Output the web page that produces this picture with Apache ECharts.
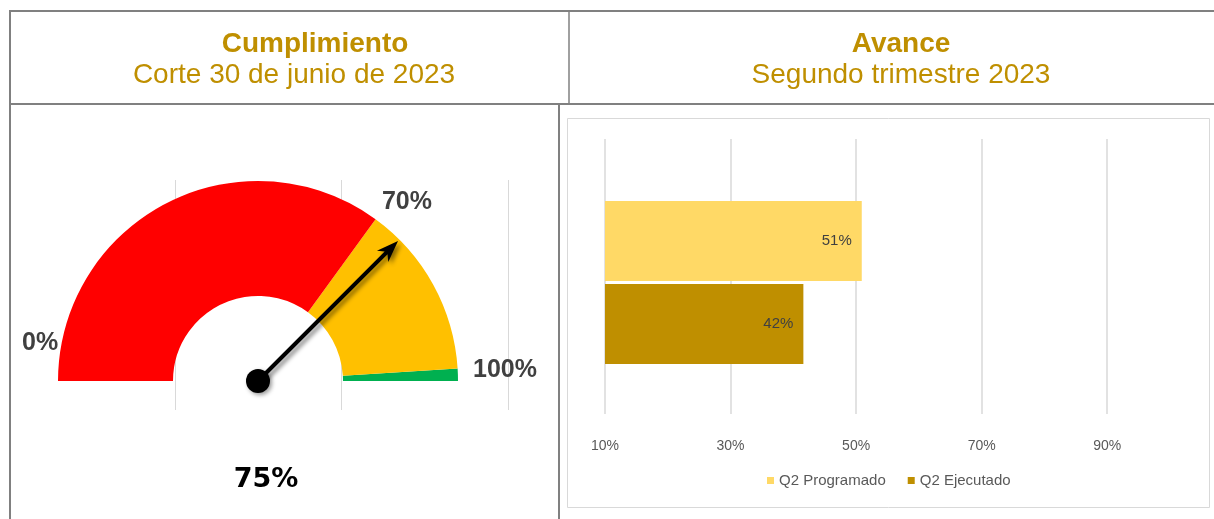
<!DOCTYPE html>
<html>
<head>
<meta charset="utf-8">
<script src="https://cdn.jsdelivr.net/npm/echarts@6/dist/echarts.min.js"></script>
<style>
html, body { margin: 0; padding: 0; background: #fff; }
#main { width: 1214px; height: 519px; }
</style>
</head>
<body>
<div id="main"></div>
<script>
// velocimetro de cumplimiento
var gaugeValue = 75;
var gaugeStops = [70, 98, 100];
var gaugeColors = ['#FF0000', '#FFC000', '#00B050'];
var gaugeTicks = [0, 70, 100];

// avance trimestral
var categories = ['Q2'];
var seriesNames = ['Q2 Programado', 'Q2 Ejecutado'];
var programado = [50.9];
var ejecutado = [41.6];
var xTicks = [10, 30, 50, 70, 90];
var xMax = 100;

var barColors = ['#FFD966', '#BF8F00'];
var border = '#808080';

var chart = echarts.init(document.getElementById('main'), null, { renderer: 'canvas' });

var titleFont = 'Liberation Sans, Arial, sans-serif';

// lineas de la tabla
function hLine(x1, x2, y, w) {
  return { type: 'line', z: 100, shape: { x1: x1, y1: y, x2: x2, y2: y }, style: { stroke: border, lineWidth: w } };
}
function vLine(x, y1, y2, w) {
  return { type: 'line', z: 100, shape: { x1: x, y1: y1, x2: x, y2: y2 }, style: { stroke: border, lineWidth: w } };
}

function pct(p) {
  return Math.round(p.value) + '%';
}

var option = {
  animation: false,
  backgroundColor: '#fff',
  title: [
    { text: 'Cumplimiento', left: 310, top: 25, textAlign: 'center',
      textStyle: { color: '#BF8F00', fontSize: 28, fontWeight: 'bold', fontFamily: titleFont } },
    { text: 'Corte 30 de junio de 2023', left: 289, top: 56, textAlign: 'center',
      textStyle: { color: '#BF8F00', fontSize: 28, fontWeight: 'normal', fontFamily: titleFont } },
    { text: 'Avance', left: 896, top: 25, textAlign: 'center',
      textStyle: { color: '#BF8F00', fontSize: 28, fontWeight: 'bold', fontFamily: titleFont } },
    { text: 'Segundo trimestre 2023', left: 896, top: 56, textAlign: 'center',
      textStyle: { color: '#BF8F00', fontSize: 28, fontWeight: 'normal', fontFamily: titleFont } }
  ],
  graphic: [
    hLine(9, 1214, 11, 2),
    vLine(10, 10, 519, 2),
    hLine(9, 1214, 104, 2),
    vLine(569, 11, 104, 1.5),
    vLine(559, 104, 519, 2),
    { type: 'rect', z: 1, shape: { x: 567.5, y: 118.5, width: 642, height: 389 },
      style: { fill: 'none', stroke: '#D9D9D9', lineWidth: 1 } }
  ],
  legend: {
    data: seriesNames,
    left: 762,
    top: 468,
    icon: 'rect',
    itemWidth: 7,
    itemHeight: 7,
    itemGap: 22,
    textStyle: { fontSize: 15, color: '#595959', fontFamily: titleFont }
  },
  grid: [
    { left: 8.5, width: 499.5, top: 180, height: 230 },
    { left: 605, right: 44, top: 139, bottom: 105 },
    { left: 605, right: 44, top: 151, bottom: 105 }
  ],
  xAxis: [
    { gridIndex: 0, type: 'value', min: 0, max: 3, interval: 1,
      axisLine: { show: false }, axisTick: { show: false }, axisLabel: { show: false },
      splitLine: { show: true, showMinLine: false, lineStyle: { color: '#D9D9D9' } } },
    { gridIndex: 1, type: 'value', min: xTicks[0], max: xMax, interval: xTicks[1] - xTicks[0],
      axisLine: { show: false }, axisTick: { show: false },
      axisLabel: { formatter: '{value}%', color: '#595959', fontSize: 14, margin: 25,
        fontFamily: titleFont, showMaxLabel: false },
      splitLine: { show: true, showMaxLine: false, lineStyle: { color: '#D9D9D9', width: 1.5 } } },
    { gridIndex: 2, type: 'value', min: xTicks[0], max: xMax, show: false, splitLine: { show: false } }
  ],
  yAxis: [
    { gridIndex: 0, type: 'value', show: false, splitLine: { show: false } },
    { gridIndex: 1, type: 'value', show: false, splitLine: { show: false } },
    { gridIndex: 2, type: 'category', data: categories, show: false }
  ],
  series: [
    {
      name: seriesNames[0], type: 'bar', xAxisIndex: 2, yAxisIndex: 2,
      data: programado, barWidth: 80, barGap: '3.75%',
      itemStyle: { color: barColors[0] },
      label: { show: true, position: 'insideRight', distance: 10, formatter: pct,
        color: '#404040', fontSize: 15, fontFamily: titleFont }
    },
    {
      name: seriesNames[1], type: 'bar', xAxisIndex: 2, yAxisIndex: 2,
      data: ejecutado, barWidth: 80, barGap: '3.75%',
      itemStyle: { color: barColors[1] },
      label: { show: true, position: 'insideRight', distance: 10, formatter: pct,
        color: '#404040', fontSize: 15, fontFamily: titleFont }
    },
    {
      type: 'gauge',
      center: [258, 381],
      radius: 200,
      startAngle: 180,
      endAngle: 0,
      min: 0,
      max: 100,
      splitNumber: 20,
      axisLine: {
        lineStyle: {
          width: 115,
          color: gaugeStops.map(function (s, i) { return [s / 100, gaugeColors[i]]; })
        }
      },
      axisTick: { show: false },
      splitLine: { show: false, length: 0, distance: 0 },
      axisLabel: {
        distance: -96,
        fontSize: 25,
        fontWeight: 'bold',
        color: '#404040',
        fontFamily: titleFont,
        formatter: function (v) {
          return gaugeTicks.indexOf(v) >= 0 ? '{t' + v + '|' + v + '%}' : '';
        },
        rich: {
          t0: { fontSize: 25, fontWeight: 'bold', color: '#404040', fontFamily: titleFont, padding: [0, 0, 76, 60] },
          t70: { fontSize: 25, fontWeight: 'bold', color: '#404040', fontFamily: titleFont, padding: [48, 0, 0, 0] },
          t100: { fontSize: 25, fontWeight: 'bold', color: '#404040', fontFamily: titleFont, padding: [0, 17, 22, 0] }
        }
      },
      pointer: {
        icon: 'path://M7,0 L14,22 L8.8,17 L8.8,200 L5.2,200 L5.2,17 L0,22 Z',
        length: '99%',
        width: 16,
        offsetCenter: [0, 0],
        itemStyle: { color: '#000', shadowBlur: 4, shadowColor: 'rgba(0,0,0,0.45)', shadowOffsetX: 3, shadowOffsetY: 3 }
      },
      anchor: {
        show: true, showAbove: true, size: 24,
        itemStyle: { color: '#000', shadowBlur: 4, shadowColor: 'rgba(0,0,0,0.4)', shadowOffsetX: 2, shadowOffsetY: 2 }
      },
      title: { show: false },
      detail: {
        offsetCenter: [8, 99],
        formatter: '{value}%',
        fontSize: 27,
        fontWeight: 'bold',
        color: '#000',
        fontFamily: 'DejaVu Sans'
      },
      data: [{ value: gaugeValue }]
    }
  ]
};

chart.setOption(option);
</script>
</body>
</html>
